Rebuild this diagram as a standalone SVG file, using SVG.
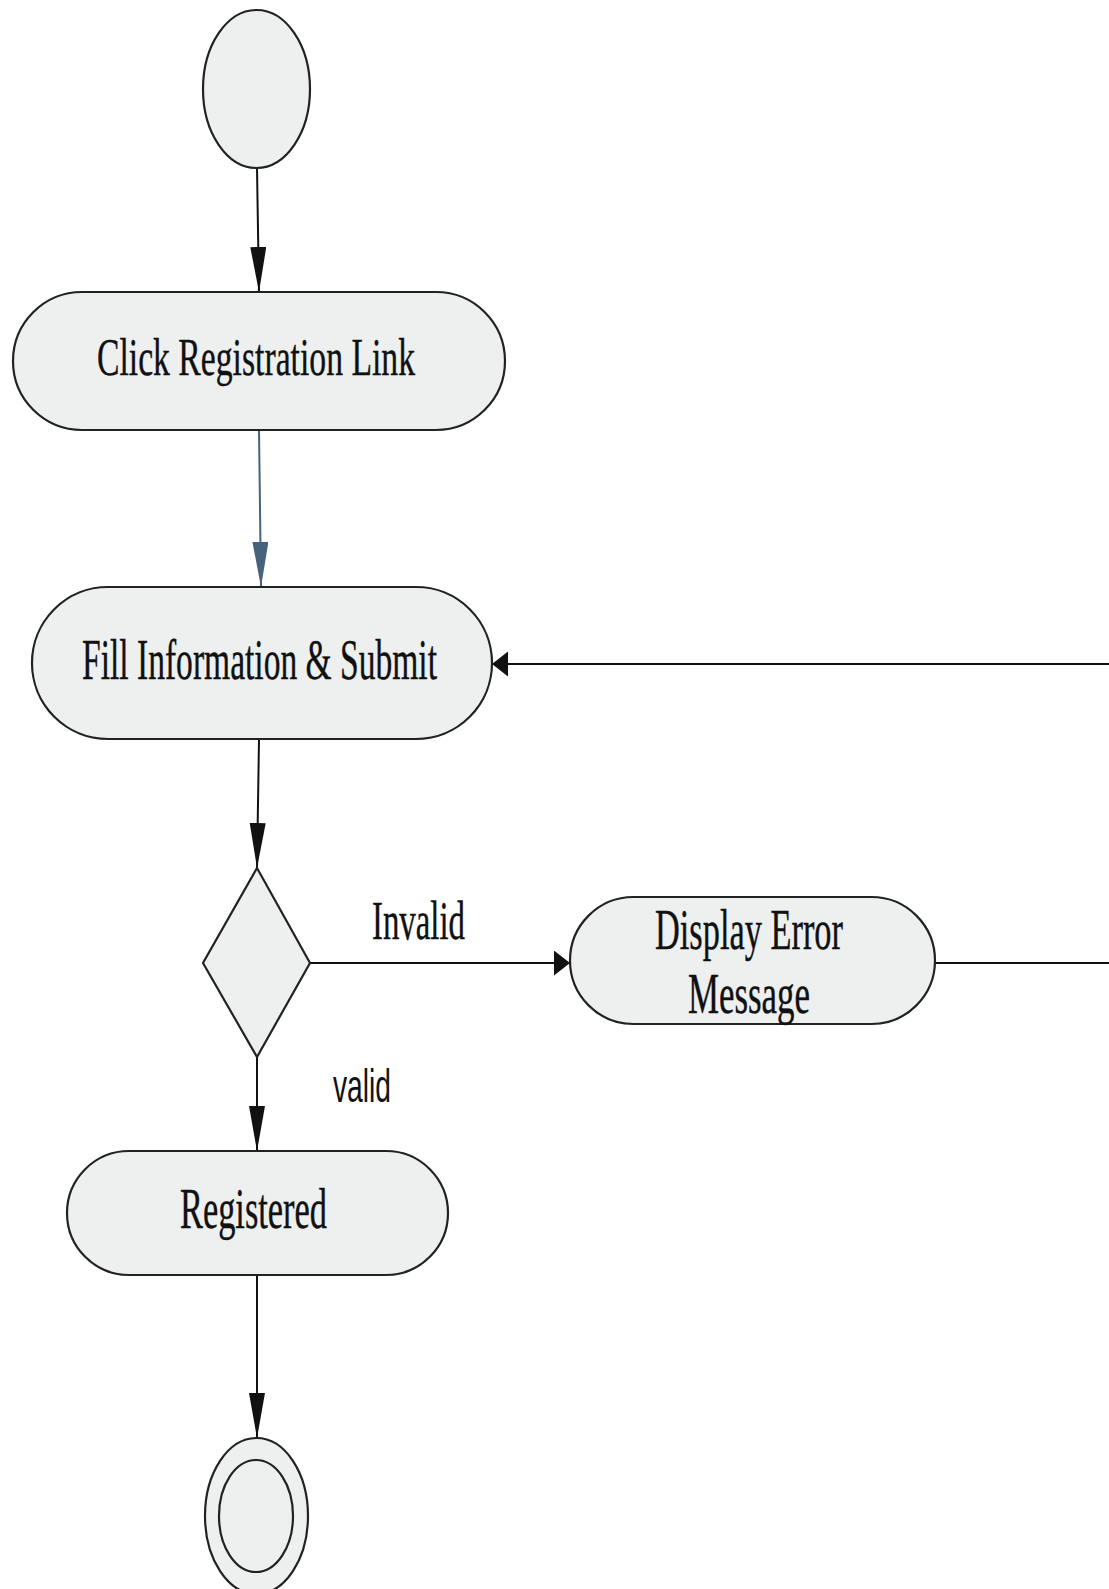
<svg xmlns="http://www.w3.org/2000/svg" width="1109" height="1589" viewBox="0 0 1109 1589">
<defs>
<style>
.node{fill:#eeefef;stroke:#222;stroke-width:2.2}
.lbl{font-family:"Liberation Serif","Times New Roman",serif;fill:#111;stroke:#111;stroke-width:0.4;text-anchor:start}
.edge{fill:none;stroke:#111;stroke-width:2}
</style>
<marker id="av" markerUnits="userSpaceOnUse" markerWidth="46" markerHeight="18" refX="45" refY="8" orient="auto">
<path d="M0,0 L45,8 L0,16 z" fill="#111"/>
</marker>
<marker id="avb" markerUnits="userSpaceOnUse" markerWidth="46" markerHeight="18" refX="45" refY="8" orient="auto">
<path d="M0,0 L45,8 L0,16 z" fill="#46627c"/>
</marker>
<marker id="ah" markerUnits="userSpaceOnUse" markerWidth="18" markerHeight="26" refX="16" refY="12.5" orient="auto">
<path d="M0,0 L16,12.5 L0,25 z" fill="#111"/>
</marker>
</defs>
<rect width="1109" height="1589" fill="#fff"/>
<g id="connectors">
<line class="edge" x1="257" y1="168" x2="259" y2="292" marker-end="url(#av)"/>
<line class="edge" x1="259" y1="430" x2="261" y2="587" style="stroke:#46627c" marker-end="url(#avb)"/>
<line class="edge" x1="259" y1="739" x2="257" y2="868" marker-end="url(#av)"/>
<line class="edge" x1="310" y1="963" x2="570" y2="963" marker-end="url(#ah)"/>
<line class="edge" x1="257" y1="1057" x2="257" y2="1151" marker-end="url(#av)"/>
<line class="edge" x1="257" y1="1275" x2="257" y2="1438" marker-end="url(#av)"/>
<line class="edge" x1="935" y1="963" x2="1109" y2="963"/>
<line class="edge" x1="1109" y1="664" x2="492" y2="664" marker-end="url(#ah)"/>
<text class="lbl" x="372" y="939" font-size="54" textLength="93" lengthAdjust="spacingAndGlyphs">Invalid</text>
<text x="333" y="1102" font-family="'Liberation Sans',Arial,sans-serif" font-size="46" fill="#111" textLength="58" lengthAdjust="spacingAndGlyphs">valid</text>
</g>
<g id="start">
<ellipse class="node" cx="256.5" cy="89" rx="53.5" ry="79"/>
</g>
<g id="click">
<rect class="node" x="13" y="292" width="492" height="138" rx="69" ry="69"/>
<text class="lbl" x="97" y="375" font-size="53" textLength="318" lengthAdjust="spacingAndGlyphs">Click Registration Link</text>
</g>
<g id="fill">
<rect class="node" x="32" y="587" width="460" height="152" rx="76" ry="76"/>
<text class="lbl" x="82" y="679" font-size="56" textLength="355" lengthAdjust="spacingAndGlyphs">Fill Information &amp; Submit</text>
</g>
<g id="decision">
<polygon class="node" points="257,868 310,963 257,1057 203,963"/>
</g>
<g id="error">
<rect class="node" x="570" y="897" width="365" height="127" rx="63.5" ry="63.5"/>
<text class="lbl" x="655" y="949" font-size="56" textLength="188" lengthAdjust="spacingAndGlyphs">Display Error</text>
<text class="lbl" x="688" y="1013" font-size="56" textLength="122" lengthAdjust="spacingAndGlyphs">Message</text>
</g>
<g id="registered">
<rect class="node" x="67" y="1151" width="381" height="124" rx="62" ry="62"/>
<text class="lbl" x="180" y="1228" font-size="56" textLength="147" lengthAdjust="spacingAndGlyphs">Registered</text>
</g>
<g id="end">
<ellipse class="node" cx="256.5" cy="1516" rx="51.5" ry="78"/>
<ellipse class="node" cx="256" cy="1516" rx="37" ry="56"/>
</g>
</svg>
